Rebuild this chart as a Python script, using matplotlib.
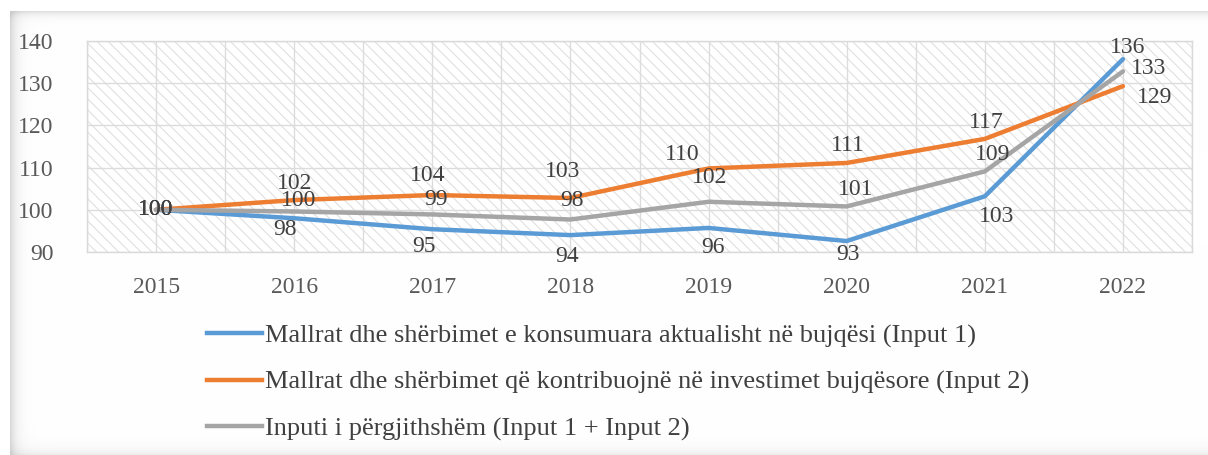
import matplotlib

matplotlib.use("Agg")
import matplotlib.pyplot as plt
import numpy as np
from matplotlib.lines import Line2D
from matplotlib.patches import Rectangle

years = ["2015", "2016", "2017", "2018", "2019", "2020", "2021", "2022"]
input1 = [100, 98.0, 95.4, 94.0, 95.7, 92.6, 103.2, 135.7]
input2 = [100, 102.3, 103.5, 102.8, 109.8, 111.1, 116.8, 129.3]
total = [100, 99.6, 98.9, 97.7, 101.9, 100.8, 109.1, 132.8]

names = [
    "Mallrat dhe shërbimet e konsumuara aktualisht në bujqësi (Input 1)",
    "Mallrat dhe shërbimet që kontribuojnë në investimet bujqësore (Input 2)",
    "Inputi i përgjithshëm (Input 1 + Input 2)",
]
colors = ["#5B9BD5", "#ED7D31", "#A5A5A5"]

# label offsets in pixels (dx, dy) per series and year
offs1 = [(0, 0), (-9, -11), (-8, -17), (-3, -21), (4, -20), (1, -13), (12, -20), (5, 12)]
offs2 = [(0, 0), (0, 17), (-5, 20), (-8, 26), (-26, 14), (1, 17), (1, 16), (32, -11)]
offs3 = [(0, 0), (4, 11), (4, 15), (2, 19), (1, 24), (9, 17), (8, 17), (26, 3)]

plt.rcParams.update({
    "font.family": ["Liberation Serif", "DejaVu Serif"],
    "font.size": 17,
    "hatch.linewidth": 0.8,
})

W, H = 1208, 455
fig = plt.figure(figsize=(W / 100, H / 100), dpi=100)

# frame with soft inner shadow
bg = fig.add_axes([0, 0, 1, 1], zorder=-10)
xx, yy = np.meshgrid(np.arange(W), np.arange(H))
inside = (xx >= 10) & (yy >= 11)
shade_in = 1 - 0.15 * np.exp(-(xx - 10) / 6.0) - 0.12 * np.exp(-(yy - 11) / 4.0) \
    - 0.05 * np.exp(-(452 - yy) / 6.0)
shade = np.where(inside, np.clip(shade_in, 0.8, 1), 1.0)
bg.imshow(np.dstack([shade] * 3), aspect="auto", interpolation="nearest")
bg.axis("off")

ax = fig.add_axes([87 / W, 1 - 252 / H, (1192 - 87) / W, (252 - 41) / H])
ax.set_facecolor("none")
ax.add_patch(Rectangle((0, 0), 1, 1, transform=ax.transAxes, facecolor="white",
                       edgecolor="#e0e0e0", lw=0, hatch="\\\\\\", zorder=0.1))

x = np.arange(len(years))
series = [input1, input2, total]
offsets = [offs1, offs2, offs3]
for vals, col in zip(series, colors):
    ax.plot(x, vals, color=col, lw=3.2, solid_capstyle="round", zorder=3)
for vals, offs in zip(series, offsets):
    for xi, v, (dx, dy) in zip(x, vals, offs):
        ax.annotate(f"{v:.0f}", (xi, v), xytext=(dx, dy), textcoords="offset pixels",
                    ha="center", va="center", color="#404040", fontsize=17, zorder=4)

ax.set_xlim(-0.5, len(years) - 0.5)
ax.set_ylim(90, 140)
ax.set_yticks(np.arange(90, 141, 10))
ax.set_xticks(x)
ax.set_xticklabels(years)
ax.set_xticks(np.arange(-0.5, len(years), 1), minor=True)
ax.set_axisbelow(True)
ax.grid(True, which="both", color="#dcdcdc", lw=1)
ax.tick_params(which="both", length=0, colors="#595959", labelsize=17)
ax.tick_params(axis="y", pad=24)
ax.tick_params(axis="x", pad=18)
for s in ax.spines.values():
    s.set_color("#d9d9d9")
    s.set_linewidth(1)

handles = [Line2D([], [], color=c, lw=3.2) for c in colors]
fig.legend(handles, names, loc="upper left", bbox_to_anchor=(207 / W, 1 - 324 / H),
           frameon=False, borderpad=0, borderaxespad=0, handlelength=2.08,
           handletextpad=0.11, labelspacing=0.86, fontsize=19, labelcolor="#404040")

fig.savefig("out.png", dpi=100)
